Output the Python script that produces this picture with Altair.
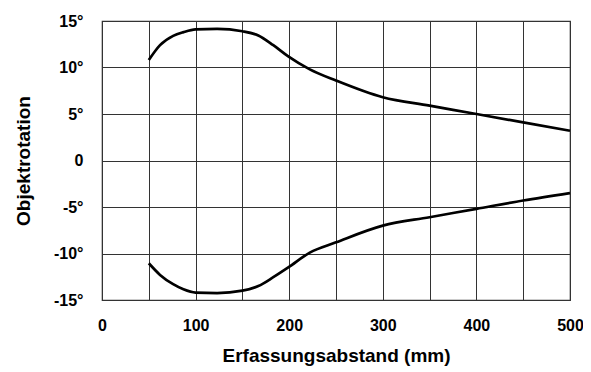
import altair as alt
import pandas as pd

x_vals = [50, 62, 76, 87, 100, 123, 150, 167, 183, 199, 222, 250, 300, 350, 400, 450, 500]
upper = [10.8, 12.4, 13.4, 13.8, 14.1, 14.15, 13.9, 13.45, 12.4, 11.2, 9.8, 8.6, 6.8, 5.9, 5.0, 4.1, 3.2]
lower = [-11.05, -12.3, -13.3, -13.85, -14.2, -14.25, -14.0, -13.5, -12.55, -11.5, -9.9, -8.8, -7.0, -6.1, -5.2, -4.3, -3.5]

x_grid = list(range(0, 501, 50))
y_ticks = [-15, -10, -5, 0, 5, 10, 15]

rows = []
for xv, u in zip(x_vals, upper):
    rows.append({"x": xv, "y": u, "s": "oben"})
for xv, l in zip(x_vals, lower):
    rows.append({"x": xv, "y": l, "s": "unten"})
df = pd.DataFrame(rows)

FONT = "Liberation Sans, Arial"

chart = alt.Chart(df).mark_line(color="black", strokeWidth=2.7, interpolate="monotone").encode(
    x=alt.X("x:Q", scale=alt.Scale(domain=[0, 500], nice=False),
            axis=alt.Axis(values=x_grid, title="Erfassungsabstand (mm)",
                          labelExpr="datum.value % 100 == 0 ? datum.label : ''",
                          ticks=False, domain=False, labelPadding=17, titlePadding=13,
                          grid=True, gridColor="#333", gridOpacity=1, gridWidth=1)),
    y=alt.Y("y:Q", scale=alt.Scale(domain=[-15, 15], nice=False),
            axis=alt.Axis(values=y_ticks, title="Objektrotation",
                          labelExpr="datum.value == 0 ? '0' : datum.value + '°'",
                          ticks=False, domain=False, labelPadding=19, titlePadding=20,
                          grid=True, gridColor="#333", gridOpacity=1, gridWidth=1)),
    detail="s:N",
).properties(
    width=468, height=279,
    autosize=alt.AutoSizeParams(type="none"),
    padding={"left": 94, "top": 13, "right": 13, "bottom": 70},
).configure_view(
    stroke="#333", strokeWidth=1.2
).configure_axis(
    labelFont=FONT, labelFontSize=16, labelFontWeight="bold", labelColor="black",
    titleFont=FONT, titleFontSize=19, titleFontWeight="bold", titleColor="black",
    labelFlush=False,
)

chart.save("out.html", embed_options={"renderer": "svg", "actions": False})
